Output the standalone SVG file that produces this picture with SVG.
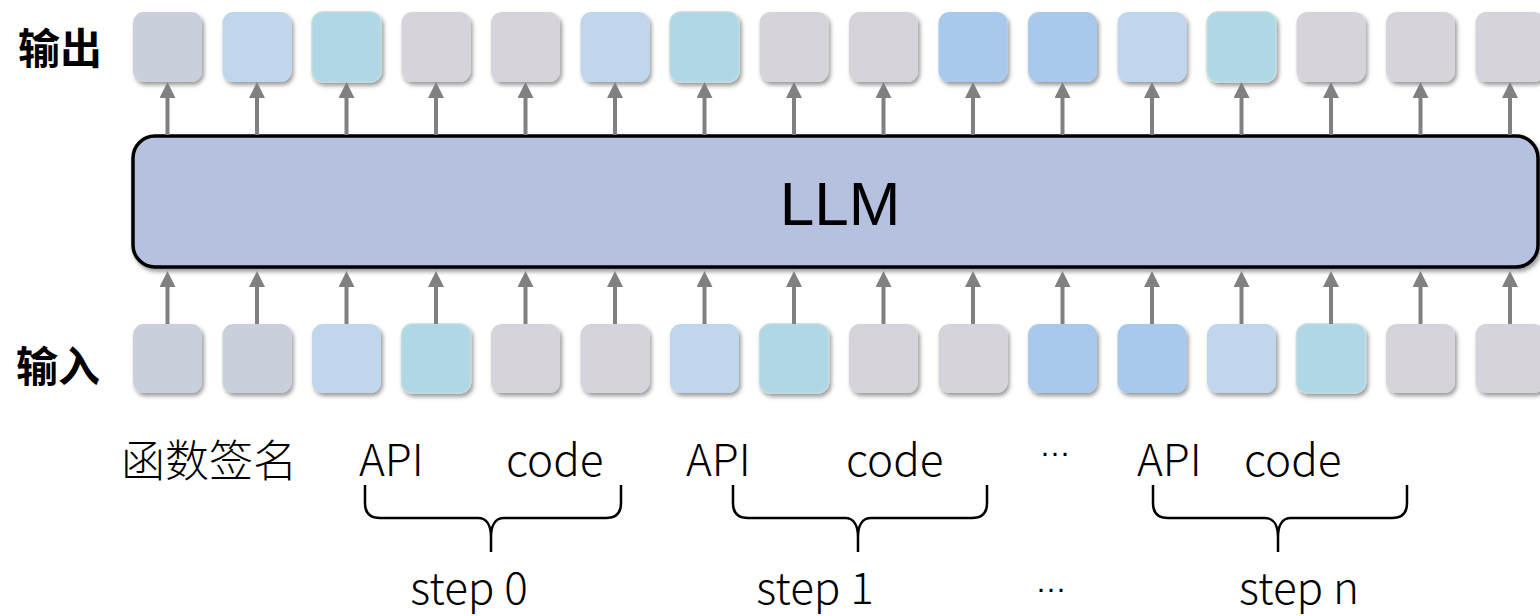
<svg xmlns="http://www.w3.org/2000/svg" width="1540" height="616" viewBox="0 0 1540 616">
<style>
.g1{fill:#c9d0dc}
.lb{fill:#bfd6ec}
.tl{fill:#b0d7e5;stroke:#c0dde0;stroke-width:1.5}
.gr{fill:#d7d3da}
.bl{fill:#a8c8ec}
.arr{stroke:#808080;stroke-width:4;fill:none;marker-end:url(#ah)}
.lbl{font-family:"Noto Sans CJK SC","Noto Sans",sans-serif;font-weight:700;font-size:42px;fill:#000}
.t{font-family:"Noto Sans CJK SC","Noto Sans",sans-serif;font-weight:300;font-size:44px;fill:#000}
.dots{font-family:"Liberation Sans",Arial,sans-serif;font-size:30px;fill:#000}
.brace{fill:none;stroke:#000;stroke-width:2.5}
</style>
<defs>
<filter id="sh" x="-20%" y="-20%" width="150%" height="150%">
<feDropShadow dx="2" dy="3" stdDeviation="2" flood-color="#000" flood-opacity="0.4"/>
</filter>
<marker id="ah" viewBox="0 0 16 16" refX="0" refY="8" markerWidth="16" markerHeight="16" markerUnits="userSpaceOnUse" orient="auto">
<path d="M0,0 L16,8 L0,16 z" fill="#808080"/>
</marker>
</defs>
<rect width="1540" height="616" fill="#fff"/>

<g id="labels">
<text class="lbl" x="18" y="64">输出</text>
<text class="lbl" x="16" y="382">输入</text>
</g>

<g id="llm">
<rect x="133" y="136" width="1405" height="131" rx="22" fill="#b6c1df" stroke="#000" stroke-width="3.5" filter="url(#sh)"/>
<text x="840" y="225" font-family="Liberation Sans, Arial, sans-serif" font-size="62" text-anchor="middle">LLM</text>
</g>

<g id="outputs" filter="url(#sh)">
<rect id="o1" class="g1" x="133" y="12" width="69" height="70" rx="11"/>
<rect id="o2" class="lb" x="222.5" y="12" width="69" height="70" rx="11"/>
<rect id="o3" class="tl" x="312" y="12" width="69" height="70" rx="11"/>
<rect id="o4" class="gr" x="401.5" y="12" width="69" height="70" rx="11"/>
<rect id="o5" class="gr" x="491" y="12" width="69" height="70" rx="11"/>
<rect id="o6" class="lb" x="580.5" y="12" width="69" height="70" rx="11"/>
<rect id="o7" class="tl" x="670" y="12" width="69" height="70" rx="11"/>
<rect id="o8" class="gr" x="759.5" y="12" width="69" height="70" rx="11"/>
<rect id="o9" class="gr" x="849" y="12" width="69" height="70" rx="11"/>
<rect id="o10" class="bl" x="938.5" y="12" width="69" height="70" rx="11"/>
<rect id="o11" class="bl" x="1028" y="12" width="69" height="70" rx="11"/>
<rect id="o12" class="lb" x="1117.5" y="12" width="69" height="70" rx="11"/>
<rect id="o13" class="tl" x="1207" y="12" width="69" height="70" rx="11"/>
<rect id="o14" class="gr" x="1296.5" y="12" width="69" height="70" rx="11"/>
<rect id="o15" class="gr" x="1386" y="12" width="69" height="70" rx="11"/>
<rect id="o16" class="gr" x="1475.5" y="12" width="69" height="70" rx="11"/>
</g>

<g id="inputs" filter="url(#sh)">
<rect id="i1" class="g1" x="133" y="324" width="69" height="69" rx="11"/>
<rect id="i2" class="g1" x="222.5" y="324" width="69" height="69" rx="11"/>
<rect id="i3" class="lb" x="312" y="324" width="69" height="69" rx="11"/>
<rect id="i4" class="tl" x="401.5" y="324" width="69" height="69" rx="11"/>
<rect id="i5" class="gr" x="491" y="324" width="69" height="69" rx="11"/>
<rect id="i6" class="gr" x="580.5" y="324" width="69" height="69" rx="11"/>
<rect id="i7" class="lb" x="670" y="324" width="69" height="69" rx="11"/>
<rect id="i8" class="tl" x="759.5" y="324" width="69" height="69" rx="11"/>
<rect id="i9" class="gr" x="849" y="324" width="69" height="69" rx="11"/>
<rect id="i10" class="gr" x="938.5" y="324" width="69" height="69" rx="11"/>
<rect id="i11" class="bl" x="1028" y="324" width="69" height="69" rx="11"/>
<rect id="i12" class="bl" x="1117.5" y="324" width="69" height="69" rx="11"/>
<rect id="i13" class="lb" x="1207" y="324" width="69" height="69" rx="11"/>
<rect id="i14" class="tl" x="1296.5" y="324" width="69" height="69" rx="11"/>
<rect id="i15" class="gr" x="1386" y="324" width="69" height="69" rx="11"/>
<rect id="i16" class="gr" x="1475.5" y="324" width="69" height="69" rx="11"/>
</g>

<g id="connectors">
<line class="arr" x1="167.5" y1="135" x2="167.5" y2="98"/>
<line class="arr" x1="257" y1="135" x2="257" y2="98"/>
<line class="arr" x1="346.5" y1="135" x2="346.5" y2="98"/>
<line class="arr" x1="436" y1="135" x2="436" y2="98"/>
<line class="arr" x1="525.5" y1="135" x2="525.5" y2="98"/>
<line class="arr" x1="615" y1="135" x2="615" y2="98"/>
<line class="arr" x1="704.5" y1="135" x2="704.5" y2="98"/>
<line class="arr" x1="794" y1="135" x2="794" y2="98"/>
<line class="arr" x1="883.5" y1="135" x2="883.5" y2="98"/>
<line class="arr" x1="973" y1="135" x2="973" y2="98"/>
<line class="arr" x1="1062.5" y1="135" x2="1062.5" y2="98"/>
<line class="arr" x1="1152" y1="135" x2="1152" y2="98"/>
<line class="arr" x1="1241.5" y1="135" x2="1241.5" y2="98"/>
<line class="arr" x1="1331" y1="135" x2="1331" y2="98"/>
<line class="arr" x1="1420.5" y1="135" x2="1420.5" y2="98"/>
<line class="arr" x1="1510" y1="135" x2="1510" y2="98"/>
<line class="arr" x1="167.5" y1="324" x2="167.5" y2="287"/>
<line class="arr" x1="257" y1="324" x2="257" y2="287"/>
<line class="arr" x1="346.5" y1="324" x2="346.5" y2="287"/>
<line class="arr" x1="436" y1="324" x2="436" y2="287"/>
<line class="arr" x1="525.5" y1="324" x2="525.5" y2="287"/>
<line class="arr" x1="615" y1="324" x2="615" y2="287"/>
<line class="arr" x1="704.5" y1="324" x2="704.5" y2="287"/>
<line class="arr" x1="794" y1="324" x2="794" y2="287"/>
<line class="arr" x1="883.5" y1="324" x2="883.5" y2="287"/>
<line class="arr" x1="973" y1="324" x2="973" y2="287"/>
<line class="arr" x1="1062.5" y1="324" x2="1062.5" y2="287"/>
<line class="arr" x1="1152" y1="324" x2="1152" y2="287"/>
<line class="arr" x1="1241.5" y1="324" x2="1241.5" y2="287"/>
<line class="arr" x1="1331" y1="324" x2="1331" y2="287"/>
<line class="arr" x1="1420.5" y1="324" x2="1420.5" y2="287"/>
<line class="arr" x1="1510" y1="324" x2="1510" y2="287"/>
</g>

<g id="braces">
<path class="brace" d="M365 485 L365 503 C365 513 370 518 380 518 L478 518 C487 518 491 526 491 537 L491 552 M491 537 C491 526 495 518 504 518 L606 518 C616 518 621 513 621 503 L621 485"/>
<path class="brace" d="M733 485 L733 503 C733 513 738 518 748 518 L845 518 C854 518 858 526 858 537 L858 552 M858 537 C858 526 862 518 871 518 L972 518 C982 518 987 513 987 503 L987 485"/>
<path class="brace" d="M1153 485 L1153 503 C1153 513 1158 518 1168 518 L1265 518 C1274 518 1278 526 1278 537 L1278 552 M1278 537 C1278 526 1282 518 1291 518 L1392 518 C1402 518 1407 513 1407 503 L1407 485"/>
</g>

<g id="texts">
<text class="t" x="121" y="477">函数签名</text>
<text class="t" x="359" y="476">API</text>
<text class="t" x="506" y="476">code</text>
<text class="t" x="686" y="476">API</text>
<text class="t" x="846" y="476">code</text>
<text class="dots" x="1040" y="462">···</text>
<text class="t" x="1137" y="476">API</text>
<text class="t" x="1244" y="476">code</text>
<text class="t" x="469" y="604" text-anchor="middle">step 0</text>
<text class="t" x="815" y="604" text-anchor="middle">step 1</text>
<text class="dots" x="1036" y="598">···</text>
<text class="t" x="1299" y="604" text-anchor="middle">step n</text>
</g>
</svg>
